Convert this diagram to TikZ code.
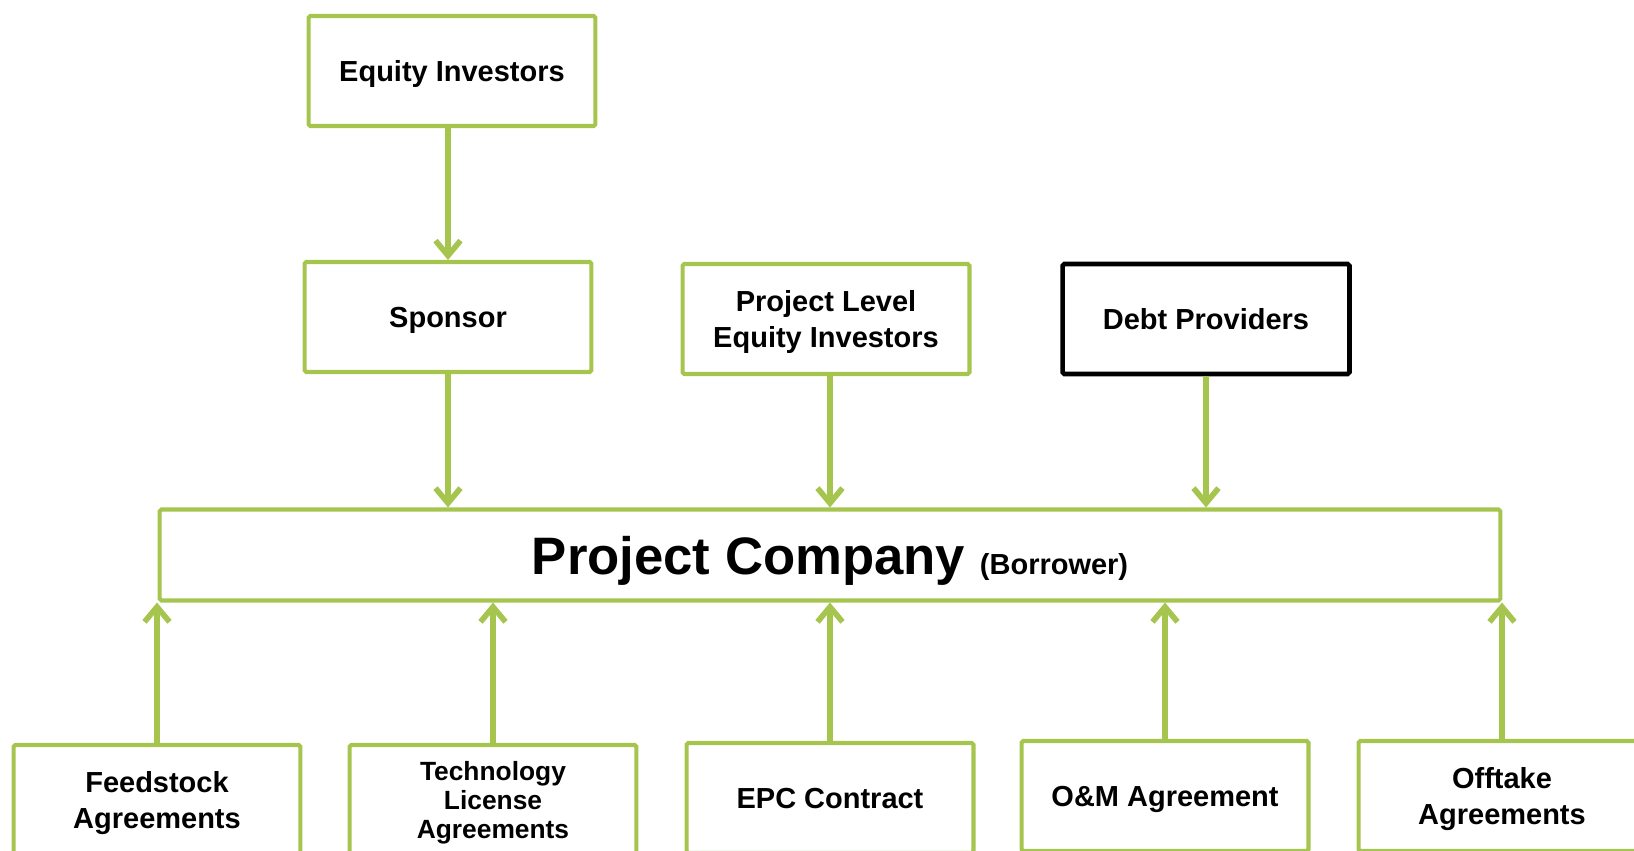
\documentclass[tikz,border=0pt]{standalone}
\usepackage{fontspec}
\setmainfont{Liberation Sans}
\usetikzlibrary{arrows.meta, positioning}
\definecolor{leafgreen}{RGB}{165,197,78}
\tikzset{
    partybox/.style={rectangle, draw=leafgreen, line width=2.3pt, rounded corners=1pt, minimum width=5.74cm, minimum height=2.2cm, align=center, inner sep=2pt, text depth=0pt, font=\bfseries\fontsize{16.5}{20.8}\selectfont},
    lenderbox/.style={partybox, draw=black, line width=2.6pt},
    borrowerbox/.style={partybox, minimum width=26.82cm, minimum height=1.82cm},
    arrow/.style={draw=leafgreen, line width=3.2pt, -{Straight Barb[length=0.3cm, width=0.5cm]}}
}
\begin{document}
\begin{tikzpicture}[x=0.02cm, y=-0.02cm]
    \useasboundingbox (0,0) rectangle (1634,851);
    \clip (0,0) rectangle (1634,851);
    % Investors and lenders
    \node (EquityInv) [partybox] at (452, 71) {Equity Investors};
    \node (Sponsor) [partybox] at (448, 317) {Sponsor};
    \node (ProjEquity) [partybox] at (826, 319) {Project Level\\Equity Investors};
    \node (DebtProv) [lenderbox] at (1206, 319) {Debt Providers};
    
    % Borrower
    \node (ProjCo) [borrowerbox] at (830, 555) {{\fontsize{30}{36}\selectfont Project Company }(Borrower)};
    
    % Contracts
    \node (Feedstock) [partybox] at (157, 800) {Feedstock\\Agreements};
    \node (TechLicense) [partybox, font=\bfseries\fontsize{15}{16.3}\selectfont] at (493, 800) {Technology\\License\\Agreements};
    \node (EPC) [partybox] at (830, 798) {EPC Contract};
    \node (OandM) [partybox] at (1165, 796) {O\&M Agreement};
    \node (Offtake) [partybox] at (1502, 796) {Offtake\\Agreements};
    
    \draw[arrow] (Sponsor.north |- EquityInv.south) -- (Sponsor.north);
    \draw[arrow] (Sponsor.south) -- (Sponsor.south |- ProjCo.north);
    \draw[arrow] (ProjEquity.south -| ProjCo.north) -- (ProjCo.north);
    \draw[arrow] (DebtProv.south) -- (DebtProv.south |- ProjCo.north);
    
    \draw[arrow] (Feedstock.north) -- (Feedstock.north |- ProjCo.south);
    \draw[arrow] (TechLicense.north) -- (TechLicense.north |- ProjCo.south);
    \draw[arrow] (EPC.north) -- (EPC.north |- ProjCo.south);
    \draw[arrow] (OandM.north) -- (OandM.north |- ProjCo.south);
    \draw[arrow] (Offtake.north) -- (Offtake.north |- ProjCo.south);
\end{tikzpicture}
\end{document}
